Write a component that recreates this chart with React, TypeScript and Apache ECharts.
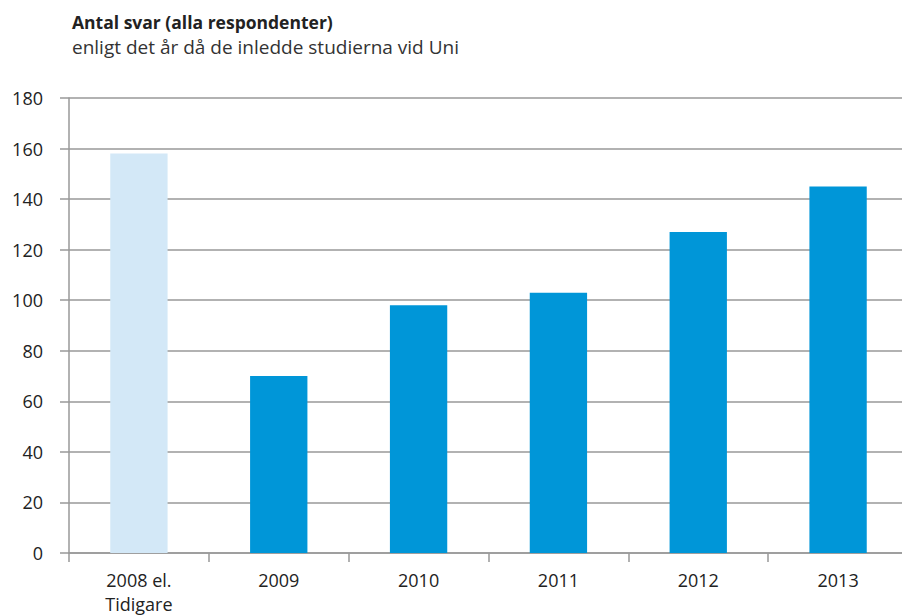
import React, { useEffect, useRef } from "react";
import * as echarts from "echarts";

const categories = ["2008 el.\nTidigare", "2009", "2010", "2011", "2012", "2013"];
const values = [158, 70, 98, 103, 127, 145];
const barColors = ["#d3e8f7", "#0096d8", "#0096d8", "#0096d8", "#0096d8", "#0096d8"];
const titleText = "Antal svar (alla respondenter)";
const subtitleText = "enligt det år då de inledde studierna vid Uni";

const FONT = "'Open Sans', 'Noto Sans', sans-serif";

export default function App() {
  const ref = useRef<HTMLDivElement>(null);
  useEffect(() => {
    if (!ref.current) return;
    const chart = echarts.init(ref.current, undefined, { renderer: "svg" });
    chart.setOption({
      animation: false,
      backgroundColor: "#ffffff",
      title: {
        text: titleText,
        subtext: subtitleText,
        left: 67,
        top: 8,
        itemGap: 6,
        textStyle: { fontFamily: FONT, fontSize: 17.5, fontWeight: "bold", color: "#222" },
        subtextStyle: { fontFamily: FONT, fontSize: 19, color: "#333" },
      },
      grid: { left: 69, right: -6, top: 98, bottom: 62, containLabel: false, outerBoundsMode: "none" },
      xAxis: {
        type: "category",
        data: categories,
        boundaryGap: true,
        axisLine: { show: true, lineStyle: { color: "#999", width: 1.5 } },
        axisTick: { show: true, length: 9, alignWithLabel: false, lineStyle: { color: "#999", width: 1.5 } },
        axisLabel: { fontFamily: FONT, fontSize: 18, color: "#222", margin: 15, lineHeight: 24 },
      },
      yAxis: {
        type: "value",
        min: 0,
        max: 180,
        interval: 20,
        axisLine: { show: true, lineStyle: { color: "#999", width: 1.5 } },
        axisTick: { show: true, length: 9, lineStyle: { color: "#999", width: 1.5 } },
        axisLabel: { fontFamily: FONT, fontSize: 18, color: "#222", margin: 26 },
        splitLine: { show: true, lineStyle: { color: "#999", width: 1.5 } },
      },
      series: [
        {
          type: "bar",
          data: values.map((v, i) => ({ value: v, itemStyle: { color: barColors[i] } })),
          barWidth: "41%",
        },
      ],
    });
    return () => chart.dispose();
  }, []);
  return <div ref={ref} style={{ width: 902, height: 615, position: "absolute", left: 0, top: 0 }} />;
}
